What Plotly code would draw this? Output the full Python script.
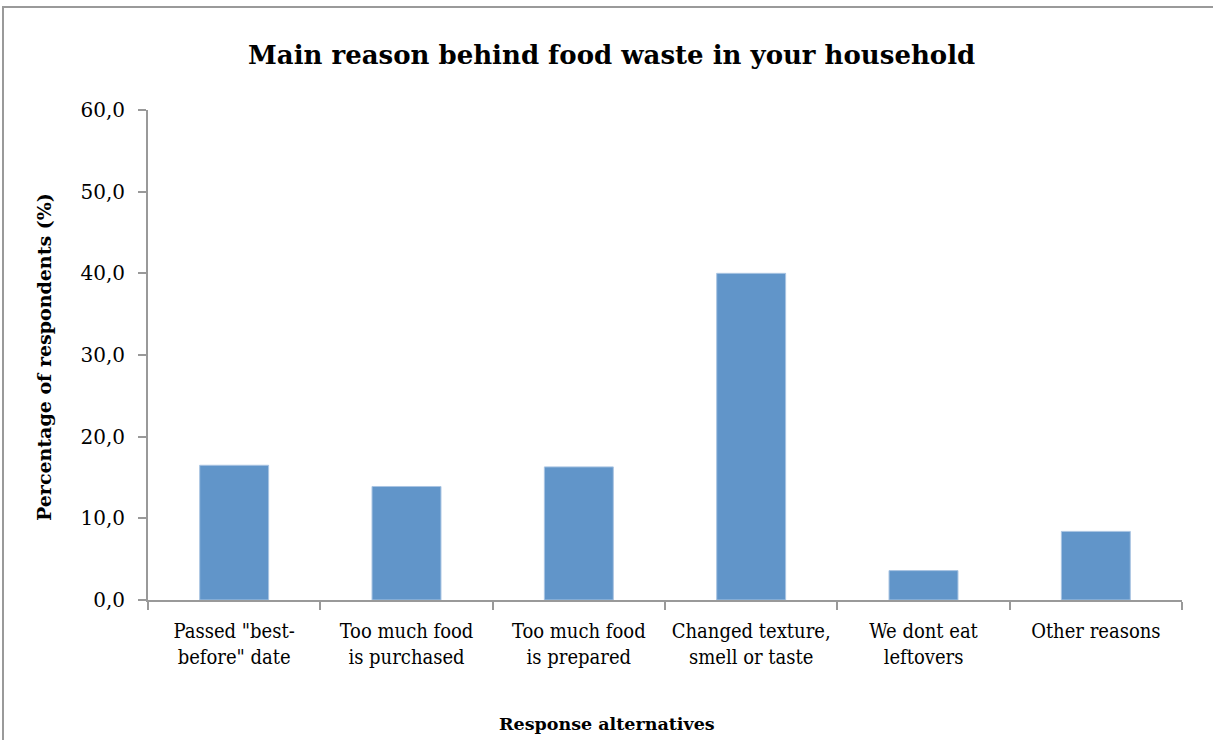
import plotly.graph_objects as go

categories = [
    'Passed "best-<br>before" date',
    'Too much food<br>is purchased',
    'Too much food<br>is prepared',
    'Changed texture,<br>smell or taste',
    'We dont eat<br>leftovers',
    'Other reasons',
]
values = [16.5, 13.9, 16.3, 40.0, 3.6, 8.4]
y_ticks = [0, 10, 20, 30, 40, 50, 60]
y_tick_labels = ["0,0", "10,0", "20,0", "30,0", "40,0", "50,0", "60,0"]

W, H = 1213, 740
L, R, T, B = 148, 31, 110, 140
pw, ph = W - L - R, H - T - B

FONT = "DejaVu Serif"
CAT_FONT = "DejaVu Serif Condensed, Liberation Serif, serif"
AXC = "#999999"

fig = go.Figure()
fig.add_trace(go.Bar(
    x=categories, y=values,
    marker=dict(color="#6195C9", line=dict(color="#A9C4E2", width=1)),
    width=0.4,
))

def px_x(x):
    return (x - L) / pw

def px_y(y):
    return (H - B - y) / ph

fig.update_layout(
    width=W, height=H,
    margin=dict(l=L, r=R, t=T, b=B, pad=0),
    paper_bgcolor="white", plot_bgcolor="white",
    showlegend=False,
    font=dict(family=FONT, color="black", size=19),
    xaxis=dict(
        showline=True, linecolor=AXC, linewidth=2,
        ticks="outside", tickson="boundaries", ticklen=8, tickcolor=AXC, tickwidth=2,
        showgrid=False, tickfont=dict(family=CAT_FONT, size=20),
        ticklabelstandoff=12, tickangle=0, automargin=False,
    ),
    yaxis=dict(
        range=[0, 60], tickvals=y_ticks, ticktext=y_tick_labels,
        showline=True, linecolor=AXC, linewidth=2,
        ticks="outside", ticklen=8, tickcolor=AXC, tickwidth=2,
        showgrid=False, zeroline=False, tickfont=dict(family=FONT, size=20),
        ticklabelstandoff=9, automargin=False,
    ),
    shapes=[dict(
        type="rect", xref="paper", yref="paper",
        x0=px_x(3), x1=px_x(1230), y0=px_y(760), y1=px_y(7),
        line=dict(color="#9a9a9a", width=2), fillcolor="rgba(0,0,0,0)", layer="below",
    )],
    annotations=[
        dict(text="<b>Main reason behind food waste in your household</b>",
             xref="paper", yref="paper", x=px_x(611), y=px_y(55),
             showarrow=False, font=dict(family=FONT, size=26), xanchor="center", yanchor="middle"),
        dict(text="<b>Percentage of respondents (%)</b>",
             xref="paper", yref="paper", x=px_x(44), y=px_y(357), textangle=-90,
             showarrow=False, font=dict(family=FONT, size=19), xanchor="center", yanchor="middle"),
        dict(text="<b>Response alternatives</b>",
             xref="paper", yref="paper", x=px_x(607), y=px_y(724),
             showarrow=False, font=dict(family=FONT, size=17.5), xanchor="center", yanchor="middle"),
    ],
)

fig.write_html("out.html")
